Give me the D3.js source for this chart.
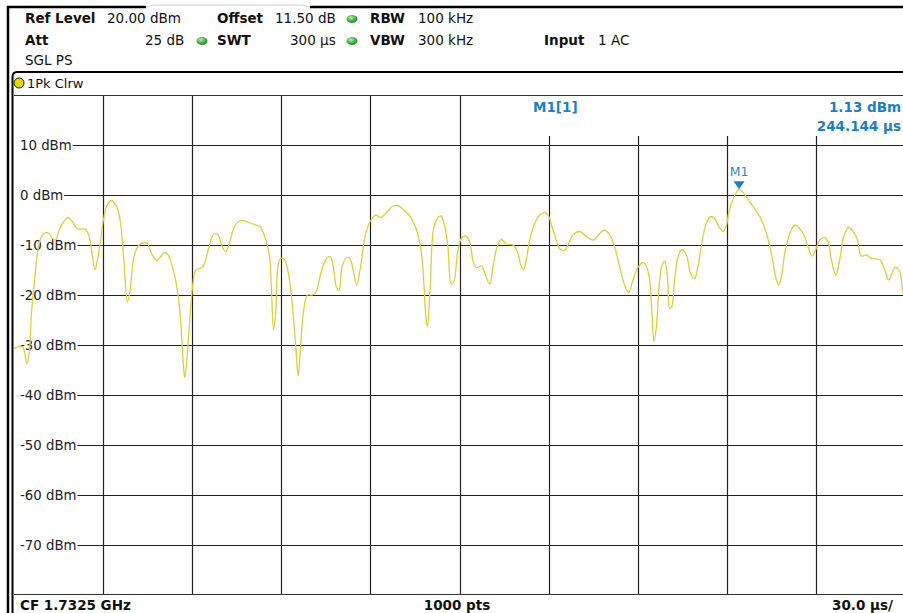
<!DOCTYPE html>
<html><head><meta charset="utf-8">
<script src="https://cdn.jsdelivr.net/npm/d3@7"></script>
<style>
html,body{margin:0;padding:0;background:#fff;}
svg{display:block;font-family:"DejaVu Sans",Verdana,sans-serif;}
</style></head>
<body>
<svg id="c" width="903" height="613"></svg>
<script>
// ---- data ----
const traceTime = [0,2.8,4.3,5.1,5.8,6.7,7.9,9.0,10.7,11.8,12.9,14.0,15.2,16.8,18.2,19.6,21.3,24.1,25.3,26.4,27.3,28.1,29.2,30.1,31.4,32.9,33.7,35.0,35.9,37.0,38.2,39.1,40.4,42.1,43.8,44.9,46.0,48.0,49.4,50.7,51.9,53.3,55.0,56.1,57.0,57.5,58.1,59.1,60.0,61.2,62.3,63.4,64.5,65.7,67.3,68.7,70.1,71.3,72.7,74.1,76.3,78.6,80.8,82.8,84.4,85.9,86.6,87.4,88.1,89.0,89.8,90.7,91.8,93.2,94.8,95.7,96.5,97.4,98.8,100.4,101.6,103.3,104.9,106.4,107.5,108.5,109.4,110.5,112.0,113.1,114.2,115.4,116.7,118.4,120.1,121.8,123.5,125.1,127.4,129.1,130.7,133.0,134.7,136.7,137.8,138.6,139.2,140.1,141.2,142.5,143.7,144.8,146.1,147.2,148.1,149.3,150.6,152.0,153.4,154.6,155.7,157.4,158.7,160.2,161.3,162.7,164.1,165.8,168.0,169.5,170.8,171.6,172.5,173.6,175.3,177.0,178.7,180.0,181.1,182.6,183.7,185.2,186.5,188.2,190.5,192.7,195.0,197.2,198.9,200.6,202.2,203.9,205.6,207.0,208.4,210.1,211.8,212.9,214.0,214.8,215.5,216.3,217.2,218.2,219.1,220.0,220.8,221.5,222.4,223.6,224.9,226.4,227.8,229.2,230.3,231.4,233.1,234.8,236.1,237.3,238.7,239.8,240.6,241.8,243.2,244.144,245.8,247.1,248.8,251.1,252.8,254.4,255.6,256.7,257.5,258.4,259.5,261.2,262.9,264.5,266.2,267.3,268.7,270.1,271.3,273.0,274.1,275.2,276.7,278.0,279.5,281.0,282.5,284.0,285.3,287.0,288.7,291.5,293.0,294.5,295.4,296.7,298.2,299.3,300];
const traceLevel = [-30.7,-30.3,-33.7,-31.7,-24.3,-18.3,-11.7,-8.7,-7.5,-7.7,-8.7,-9,-7,-5.3,-4.5,-5.3,-6.7,-6.9,-8.3,-12.3,-14.9,-13,-9,-5,-2,-1.1,-1.5,-3,-5.7,-13,-21.3,-19,-12.3,-10,-9.5,-9.7,-11.3,-13.1,-12.3,-11.5,-12,-14.3,-19,-25,-33.7,-36.5,-33.7,-25.7,-19,-15,-14.7,-14.5,-13,-10.3,-7.8,-8,-10.3,-11.3,-9.3,-6.5,-5.1,-5.4,-5.9,-6.3,-8.3,-11.7,-17.7,-27,-23.7,-13.7,-12.7,-12.7,-14,-19,-29.7,-36.2,-30.3,-23.7,-20,-20,-19.5,-15.7,-13,-12.3,-14.3,-18.3,-19.1,-14.3,-12.5,-12.7,-15,-18,-14.3,-7.7,-5.1,-4,-4.5,-3.7,-2.3,-2.1,-2.7,-4,-5.7,-9.7,-15.7,-23.7,-26.3,-19,-7,-4.7,-4.2,-5.7,-10.3,-17.7,-17.3,-11.7,-8.7,-8.2,-9.3,-13.3,-14.5,-14.2,-16,-17.8,-14.3,-10.3,-8.9,-9.8,-10,-11.3,-14.3,-14.9,-13,-9,-5.7,-4,-3.5,-4.2,-6.3,-9,-10.7,-11.1,-10,-8,-7.3,-8.3,-9,-7.7,-7,-8,-10.3,-14.3,-18,-19.5,-17,-14.5,-13.5,-14.2,-17,-23.7,-29.3,-26.3,-18.3,-14,-13.3,-16.3,-22.7,-22.3,-17,-12.3,-10.9,-12,-15.7,-16.7,-14.3,-10.3,-5.7,-4.3,-4.9,-6.3,-7.3,-6.3,-3.7,-1.3,0.5,1.13,0.3,-0.9,-2.3,-4.3,-6.7,-10,-13.7,-17,-18,-16.3,-11.7,-7.7,-6,-6.7,-8.3,-10.3,-12.2,-10.7,-9,-8.5,-9.3,-13,-16,-13,-8,-6.5,-7.3,-9,-12.2,-12,-12.7,-12.9,-14.7,-17,-16,-14.5,-15.3,-19.3,-20];
const yTicks = [10,0,-10,-20,-30,-40,-50,-60,-70];
const yTickLabels = ["10 dBm","0 dBm","-10 dBm","-20 dBm","-30 dBm","-40 dBm","-50 dBm","-60 dBm","-70 dBm"];
const xTicks = [30,60,90,120,150,180,210,240,270];
const markerTime = 244.144, markerLevel = 1.13;
const headerRow1 = [["Ref Level",true,25],["20.00 dBm",false,107],["Offset",true,217],["11.50 dB",false,275],["RBW",true,370],["100 kHz",false,418]];
const headerRow2 = [["Att",true,25],["25 dB",false,145],["SWT",true,217],["300 µs",false,290],["VBW",true,370],["300 kHz",false,418],["Input",true,544],["1 AC",false,598]];

// ---- drawing ----
const svg = d3.select("#c");
const x = d3.scaleLinear().domain([0,300]).range([14,905]);
const y = d3.scaleLinear().domain([-80,20]).range([595,95]);
const blue = "#1a80c4";

// frame
svg.append("line").attr("x1",7).attr("x2",146).attr("y1",7).attr("y2",7).attr("stroke","#000").attr("stroke-width",2.5);
svg.append("path").attr("d","M146,7 C150,7 150,5 156,5 L300,5 C306,5 306,7 310,7").attr("fill","none").attr("stroke","#ccc").attr("stroke-width",1);
svg.append("line").attr("x1",310).attr("x2",903).attr("y1",7).attr("y2",7).attr("stroke","#000").attr("stroke-width",2.5);
svg.append("line").attr("x1",8).attr("x2",8).attr("y1",6).attr("y2",613).attr("stroke","#000").attr("stroke-width",2.5);
svg.append("path").attr("d","M12.5,613 L12.5,77 Q12.5,72 17,72 L903,72").attr("fill","none").attr("stroke","#000").attr("stroke-width",2);
svg.append("line").attr("x1",14).attr("x2",903).attr("y1",95.5).attr("y2",95.5).attr("stroke","#333").attr("stroke-width",1.2);
svg.append("line").attr("x1",14).attr("x2",903).attr("y1",594.5).attr("y2",594.5).attr("stroke","#333").attr("stroke-width",1.2);

// header text
function row(items, yy){
  items.forEach(([t,b,xx])=>{
    svg.append("text").attr("x",xx).attr("y",yy).attr("font-size",13.5)
      .attr("font-weight",b?"bold":"normal").attr("fill","#111").text(t);
  });
}
row(headerRow1,23);
row(headerRow2,45);
svg.append("text").attr("x",25).attr("y",65).attr("font-size",13.5).attr("fill","#111").text("SGL PS");
const dots = [[352,19],[202,41],[352,41]];
const grad = svg.append("defs").append("radialGradient").attr("id","g").attr("cx","40%").attr("cy","35%");
grad.append("stop").attr("offset","0%").attr("stop-color","#b8f0b0");
grad.append("stop").attr("offset","100%").attr("stop-color","#2f9a3a");
dots.forEach(([cx,cy])=>svg.append("ellipse").attr("cx",cx).attr("cy",cy).attr("rx",5.5).attr("ry",4).attr("fill","url(#g)"));

// trace label
svg.append("circle").attr("cx",19).attr("cy",83).attr("r",5).attr("fill","#e8d600").attr("stroke","#222").attr("stroke-width",1);
svg.append("text").attr("x",27).attr("y",88).attr("font-size",13).attr("fill","#111").text("1Pk Clrw");

// grid
const g = svg.append("g");
xTicks.forEach(t=>{
  const top = x(t) > 540 ? 136 : 96;
  g.append("line").attr("x1",Math.round(x(t))+0.5).attr("x2",Math.round(x(t))+0.5).attr("y1",top).attr("y2",594)
   .attr("stroke","#222").attr("stroke-width",1.2);
});
yTicks.forEach((v,i)=>{
  const yy = Math.round(y(v))+0.5;
  const txt = g.append("text").attr("x",20).attr("y",yy+4.5).attr("font-size",13.3).attr("fill","#222").text(yTickLabels[i]);
  const w = txt.node().getComputedTextLength();
  g.append("line").attr("x1",20+w+1).attr("x2",903).attr("y1",yy).attr("y2",yy).attr("stroke","#222").attr("stroke-width",1.2);
});

// trace
svg.append("clipPath").attr("id","pc").append("rect").attr("x",14).attr("y",95).attr("width",891).attr("height",500);
const data = traceTime.map((t,i)=>[t,traceLevel[i]]);
svg.append("path").datum(data).attr("clip-path","url(#pc)")
  .attr("d",d3.line().x(d=>x(d[0])).y(d=>y(d[1])).curve(d3.curveCatmullRom.alpha(0.5)))
  .attr("fill","none").attr("stroke","#dccf3c").attr("stroke-width",1.3);

// marker
const mx = x(markerTime), my = y(markerLevel);
svg.append("path").attr("d",`M${mx-5.5},${my-8} L${mx+5.5},${my-8} L${mx},${my} Z`).attr("fill",blue);
svg.append("text").attr("x",mx).attr("y",my-13).attr("text-anchor","middle").attr("font-size",12.5).attr("fill","#2a8ccc").text("M1");
svg.append("text").attr("x",533).attr("y",112).attr("font-size",13.5).attr("font-weight","bold").attr("fill",blue).text("M1[1]");
svg.append("text").attr("x",901).attr("y",112).attr("text-anchor","end").attr("font-size",13.5).attr("font-weight","bold").attr("fill",blue).text(markerLevel.toFixed(2)+" dBm");
svg.append("text").attr("x",901).attr("y",131).attr("text-anchor","end").attr("font-size",13.5).attr("font-weight","bold").attr("fill",blue).text(markerTime.toFixed(3)+" µs");

// footer
svg.append("text").attr("x",20).attr("y",610).attr("font-size",13.5).attr("font-weight","bold").attr("fill","#111").text("CF 1.7325 GHz");
svg.append("text").attr("x",457).attr("y",610).attr("text-anchor","middle").attr("font-size",13.5).attr("font-weight","bold").attr("fill","#111").text("1000 pts");
svg.append("text").attr("x",893).attr("y",610).attr("text-anchor","end").attr("font-size",13.5).attr("font-weight","bold").attr("fill","#111").text("30.0 µs/");
</script>
</body></html>
